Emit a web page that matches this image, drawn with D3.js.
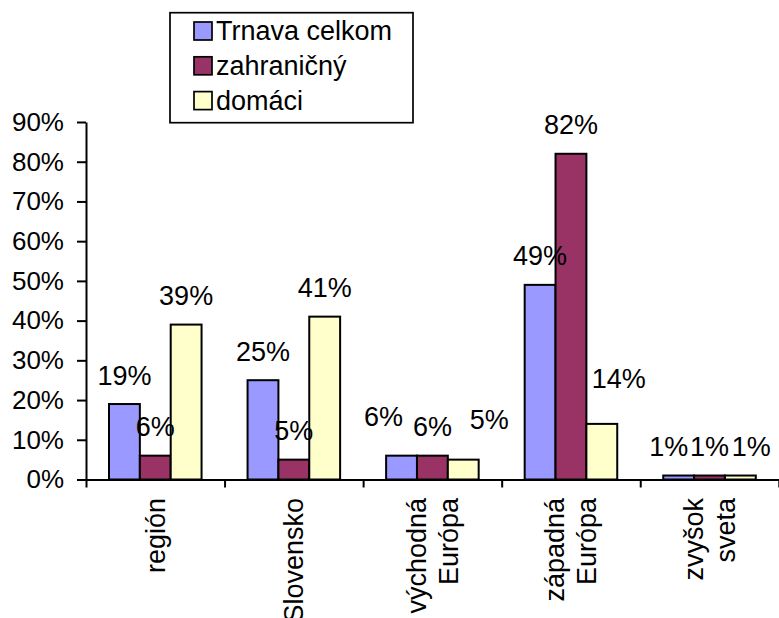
<!DOCTYPE html>
<html>
<head>
<meta charset="utf-8">
<script src="https://cdn.jsdelivr.net/npm/d3@7/dist/d3.min.js"></script>
<style>
  html, body { margin: 0; padding: 0; background: #fff; }
  svg { display: block; }
  text { font-family: Arial, "Liberation Sans", sans-serif; fill: #000; }
</style>
</head>
<body>
<svg id="chart" width="779" height="618"></svg>
<script>
// ---- data ----
const categories = ["región", "Slovensko", "východná\nEurópa", "západná\nEurópa", "zvyšok\nsveta"];
const seriesNames = ["Trnava celkom", "zahraničný", "domáci"];
const trnavaCelkom = [19, 25, 6, 49, 1];
const zahranicny = [6, 5, 6, 82, 1];
const domaci = [39, 41, 5, 14, 1];
const yTicks = [0, 10, 20, 30, 40, 50, 60, 70, 80, 90];

// ---- style / layout (not data) ----
const colors = ["#9999FF", "#993366", "#FFFFCC"];
const FONT = 27;
const AXIS_FONT = 26;
const seriesValues = [trnavaCelkom, zahranicny, domaci];
// manual label nudges (dx, dy) like the hand-placed labels of the original
const labelNudge = { "2-0": [-18, -10], "2-2": [26, -11], "3-2": [17, -16], "4-0": [-10, 0], "4-2": [11, 0] };

const svg = d3.select("#chart");
const plotLeft = 86, plotRight = 778.8, plotTop = 122, plotBottom = 479.5;

const x0 = d3.scaleBand().domain(categories).range([plotLeft, plotRight]).padding(0);
const bw = x0.bandwidth();
const x1 = d3.scaleBand().domain(seriesNames).range([bw * 0.166, bw * 0.834]).padding(0);
const y = d3.scaleLinear().domain([0, 90]).range([plotBottom, plotTop]);

// bars
const rows = categories.map((c, ci) => ({ c, ci }));
const groups = svg.append("g").selectAll("g").data(rows).join("g")
  .attr("transform", d => `translate(${x0(d.c)},0)`);
groups.selectAll("rect")
  .data(d => seriesNames.map((s, si) => ({ s, si, v: seriesValues[si][d.ci] })))
  .join("rect")
  .attr("x", d => x1(d.s))
  .attr("y", d => y(d.v))
  .attr("width", x1.bandwidth())
  .attr("height", d => y(0) - y(d.v))
  .attr("fill", d => colors[d.si])
  .attr("stroke", "#000")
  .attr("stroke-width", 2);

// y axis
const yAxis = d3.axisLeft(y).tickValues(yTicks).tickFormat(d => d + "%")
  .tickSize(9).tickSizeOuter(0).tickPadding(13);
const gy = svg.append("g").attr("transform", `translate(${plotLeft},0)`).call(yAxis);
gy.selectAll("text").style("font-size", AXIS_FONT + "px").style("font-family", "Arial, 'Liberation Sans', sans-serif").attr("fill", "#000");
gy.selectAll("line, path").attr("stroke", "#000").attr("stroke-width", 2);

// x axis (ticks at category boundaries)
const xb = d3.scaleLinear().domain([0, categories.length]).range([plotLeft, plotRight]);
const xAxis = d3.axisBottom(xb).tickValues(d3.range(categories.length + 1))
  .tickFormat("").tickSize(8).tickSizeOuter(0);
const gx = svg.append("g").attr("transform", `translate(0,${plotBottom})`).call(xAxis);
gx.selectAll("line, path").attr("stroke", "#000").attr("stroke-width", 2);

// category labels (rotated)
const lineH = 32;
categories.forEach(c => {
  const lines = c.split("\n");
  const cx = x0(c) + bw / 2;
  const g = svg.append("g").attr("transform", `translate(${cx},498) rotate(-90)`);
  lines.forEach((ln, i) => {
    const off = (i - (lines.length - 1) / 2) * lineH;
    g.append("text")
      .attr("x", 0)
      .attr("y", off)
      .attr("dy", "0.35em")
      .attr("text-anchor", "end")
      .style("font-size", FONT + "px")
      .text(ln);
  });
});

// data labels
const labels = [];
categories.forEach((c, ci) => seriesNames.forEach((s, si) => {
  labels.push({ c, ci, s, si, v: seriesValues[si][ci] });
}));
svg.append("g").selectAll("text").data(labels).join("text")
  .attr("x", d => x0(d.c) + x1(d.s) + x1.bandwidth() / 2 + (labelNudge[d.ci + "-" + d.si] || [0, 0])[0])
  .attr("y", d => y(d.v) - 19.5 + (labelNudge[d.ci + "-" + d.si] || [0, 0])[1])
  .attr("text-anchor", "middle")
  .style("font-size", FONT + "px")
  .text(d => d.v + "%");

// legend
const lg = svg.append("g");
lg.append("rect").attr("x", 170).attr("y", 12.7).attr("width", 243).attr("height", 110)
  .attr("fill", "#fff").attr("stroke", "#000").attr("stroke-width", 1.7);
seriesNames.forEach((s, i) => {
  const yy = 22 + i * 34.8;
  lg.append("rect").attr("x", 194).attr("y", yy).attr("width", 18).attr("height", 18)
    .attr("fill", colors[i]).attr("stroke", "#000").attr("stroke-width", 1.7);
  lg.append("text").attr("x", 216).attr("y", yy + 18)
    .style("font-size", FONT + "px").text(s);
});
</script>
</body>
</html>
